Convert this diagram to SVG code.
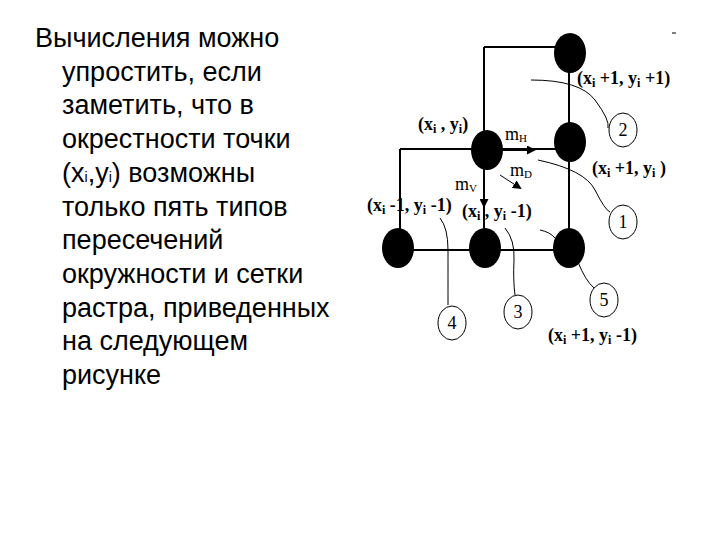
<svg xmlns="http://www.w3.org/2000/svg" width="720" height="540" viewBox="0 0 720 540">
<style>
.t{font-family:"Liberation Sans",Arial,sans-serif;font-size:27px;fill:#000}
.l{font-family:"Liberation Serif","Times New Roman",serif;font-size:18px;font-weight:bold;fill:#000}
.n{font-family:"Liberation Serif","Times New Roman",serif;font-size:18px;fill:#000}
.e{stroke:#000;stroke-width:2;fill:none}
.c{stroke:#000;stroke-width:1;fill:none}
.node{fill:#000}
</style>
<defs><marker id="a" markerWidth="9" markerHeight="9" refX="7" refY="4.5" orient="auto" markerUnits="userSpaceOnUse"><path d="M0,0 L9,4.5 L0,9 z" fill="#000"/></marker></defs>
<rect width="720" height="540" fill="#fff"/>
<g id="text">
<text class="t" x="35" y="47">Вычисления можно</text>
<text class="t" x="62" y="81">упростить, если</text>
<text class="t" x="62" y="114">заметить, что в</text>
<text class="t" x="62" y="148">окрестности точки</text>
<text class="t" x="62" y="182">(x<tspan font-size="14">i</tspan>,y<tspan font-size="14">i</tspan>) возможны</text>
<text class="t" x="62" y="216">только пять типов</text>
<text class="t" x="62" y="249">пересечений</text>
<text class="t" x="62" y="283">окружности и сетки</text>
<text class="t" x="62" y="317">растра, приведенных</text>
<text class="t" x="62" y="350">на следующем</text>
<text class="t" x="62" y="384">рисунке</text>
</g>
<g id="connectors">
<path class="e" d="M484,47 H570 M484,47 V248 M400,149 H570 M400,149 V248 M398,250 H568 M569,52 V248"/>
<path class="e" d="M484,170 V206" marker-end="url(#a)"/>
<path class="e" d="M503,150 H534" marker-end="url(#a)"/>
<path class="c" d="M500,175 L520,188" marker-end="url(#a)"/>
<path class="c" d="M531,80 Q580,80 595,100 T608,128"/>
<path class="c" d="M538,160 Q585,170 595,190 T610,212"/>
<path class="c" d="M578,262 Q585,280 594,288"/>
<path class="c" d="M540,230 Q550,232 555,238"/>
<path class="c" d="M505,228 Q515,240 514,260 T515,295"/>
<path class="c" d="M440,218 Q448,228 448,250 T448,305"/>
<path class="c" d="M672,33 H676"/>
</g>
<g id="n_top"><ellipse class="node" cx="570" cy="53" rx="16" ry="20"/></g>
<g id="n_right"><ellipse class="node" cx="570" cy="142" rx="16" ry="20"/></g>
<g id="n_center"><ellipse class="node" cx="487" cy="150" rx="16" ry="20"/></g>
<g id="n_bl"><ellipse class="node" cx="398" cy="248" rx="16" ry="20"/></g>
<g id="n_bm"><ellipse class="node" cx="485" cy="248" rx="16" ry="20"/></g>
<g id="n_br"><ellipse class="node" cx="569" cy="248" rx="16" ry="20"/></g>
<g id="labels">
<text class="l" x="577" y="84">(x<tspan font-size="12" dy="3">i</tspan><tspan dy="-3"> +1, y</tspan><tspan font-size="12" dy="3">i</tspan><tspan dy="-3"> +1)</tspan></text>
<text class="l" x="418" y="130">(x<tspan font-size="12" dy="3">i</tspan><tspan dy="-3"> , y</tspan><tspan font-size="12" dy="3">i</tspan><tspan dy="-3">)</tspan></text>
<text class="n" x="505" y="140">m<tspan font-size="11" dy="2">H</tspan></text>
<text class="n" x="510" y="176">m<tspan font-size="11" dy="2">D</tspan></text>
<text class="n" x="455" y="190">m<tspan font-size="11" dy="2">V</tspan></text>
<text class="l" x="592" y="174">(x<tspan font-size="12" dy="3">i</tspan><tspan dy="-3"> +1, y</tspan><tspan font-size="12" dy="3">i</tspan><tspan dy="-3"> )</tspan></text>
<text class="l" x="367" y="211">(x<tspan font-size="12" dy="3">i</tspan><tspan dy="-3"> -1, y</tspan><tspan font-size="12" dy="3">i</tspan><tspan dy="-3"> -1)</tspan></text>
<text class="l" x="462" y="217">(x<tspan font-size="12" dy="3">i</tspan><tspan dy="-3"> , y</tspan><tspan font-size="12" dy="3">i</tspan><tspan dy="-3"> -1)</tspan></text>
<text class="l" x="548" y="341">(x<tspan font-size="12" dy="3">i</tspan><tspan dy="-3"> +1, y</tspan><tspan font-size="12" dy="3">i</tspan><tspan dy="-3"> -1)</tspan></text>
</g>
<g id="callouts">
<ellipse class="c" cx="623" cy="130" rx="14" ry="17"/><text class="n" x="623" y="136" text-anchor="middle">2</text>
<ellipse class="c" cx="623" cy="222" rx="14" ry="17"/><text class="n" x="623" y="228" text-anchor="middle">1</text>
<ellipse class="c" cx="604" cy="300" rx="14" ry="17"/><text class="n" x="604" y="306" text-anchor="middle">5</text>
<ellipse class="c" cx="518" cy="312" rx="14" ry="17"/><text class="n" x="518" y="318" text-anchor="middle">3</text>
<ellipse class="c" cx="452" cy="323" rx="14" ry="17"/><text class="n" x="452" y="329" text-anchor="middle">4</text>
</g>
</svg>
